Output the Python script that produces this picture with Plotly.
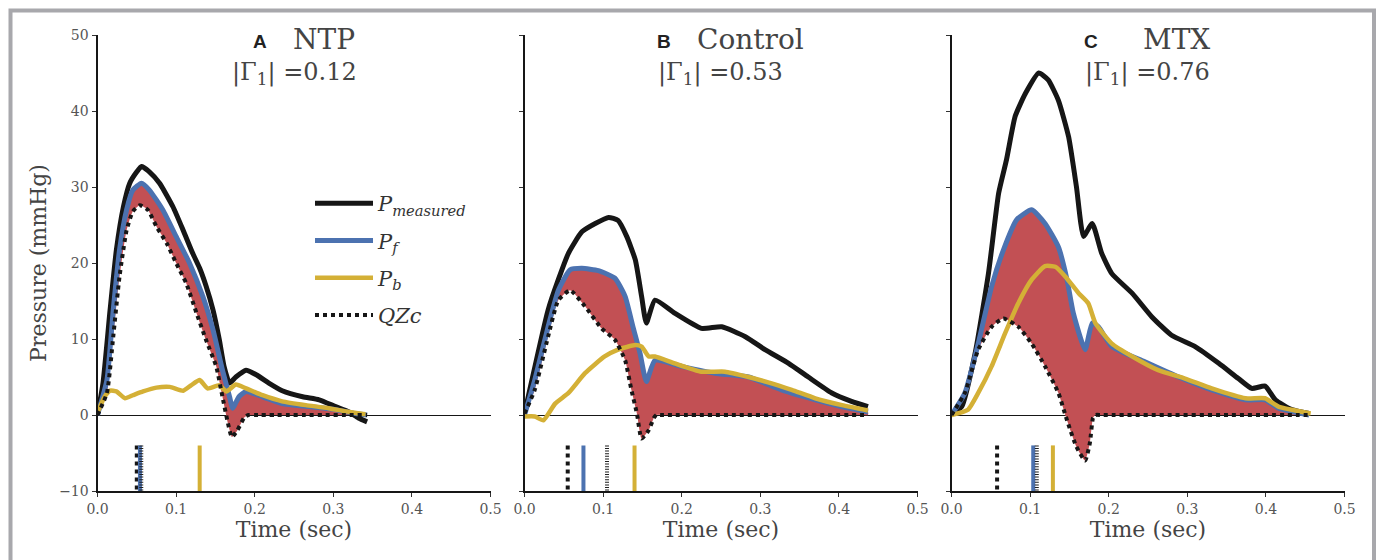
import plotly.graph_objects as go

# ---------------- data ----------------
panels = ["A", "B", "C"]
panel_names = ["NTP", "Control", "MTX"]
gamma_values = ["0.12", "0.53", "0.76"]

# Panel A
a_meas_t = [0.0, 0.007, 0.016, 0.024, 0.033, 0.041, 0.050, 0.056, 0.066, 0.079, 0.096, 0.109, 0.121, 0.130,
            0.138, 0.147, 0.155, 0.161, 0.168, 0.176, 0.189, 0.202, 0.218, 0.235, 0.261, 0.282, 0.303, 0.320,
            0.332, 0.343]
a_meas_p = [0.0, 4.2, 13.8, 21.7, 27.4, 30.5, 32.0, 32.7, 32.0, 30.5, 27.4, 24.3, 21.3, 19.3,
            17.0, 13.8, 9.9, 6.4, 4.2, 5.0, 5.9, 5.3, 4.2, 3.2, 2.4, 2.0, 1.1, 0.4,
            -0.4, -0.9]
a_pf_t = [0.0, 0.012, 0.020, 0.028, 0.037, 0.045, 0.056, 0.066, 0.083, 0.100, 0.117, 0.134, 0.147, 0.159,
          0.168, 0.172, 0.180, 0.189, 0.210, 0.235, 0.269, 0.303, 0.328, 0.343]
a_pf_p = [0.0, 4.6, 13.8, 21.7, 27.0, 29.6, 30.5, 29.6, 27.0, 23.5, 20.0, 15.6, 11.2, 5.9,
          2.4, 0.9, 2.4, 3.1, 2.4, 1.5, 1.1, 0.7, 0.2, 0.0]
a_pb_t = [0.0, 0.009, 0.016, 0.024, 0.035, 0.045, 0.058, 0.075, 0.092, 0.109, 0.119, 0.130, 0.140, 0.155,
          0.164, 0.176, 0.189, 0.210, 0.235, 0.265, 0.294, 0.320, 0.341]
a_pb_p = [0.3, 2.4, 3.2, 3.1, 2.2, 2.6, 3.1, 3.6, 3.7, 3.2, 3.9, 4.6, 3.5, 3.9,
          3.1, 4.0, 3.5, 2.6, 1.8, 1.3, 0.9, 0.4, 0.1]
a_qzc_t = [0.0, 0.012, 0.020, 0.028, 0.037, 0.045, 0.054, 0.064, 0.075, 0.088, 0.100, 0.113, 0.126, 0.138,
           0.151, 0.159, 0.166, 0.171, 0.178, 0.187, 0.192, 0.200, 0.343]
a_qzc_p = [0.0, 2.9, 10.3, 18.2, 24.3, 26.8, 27.6, 27.0, 24.8, 22.6, 20.0, 17.3, 13.4, 9.9,
           6.4, 2.4, -1.1, -2.9, -2.0, -0.3, 0.0, 0.0, 0.0]

# Panel B
b_meas_t = [0.0, 0.030, 0.043, 0.056, 0.073, 0.090, 0.107, 0.119, 0.130, 0.141, 0.149, 0.155, 0.166, 0.191,
            0.225, 0.251, 0.281, 0.306, 0.336, 0.361, 0.391, 0.416, 0.437]
b_meas_p = [0.2, 13.8, 17.8, 21.3, 24.1, 25.2, 26.0, 25.6, 23.5, 20.4, 15.6, 12.1, 15.1, 13.4,
            11.4, 11.6, 10.3, 8.6, 6.8, 5.0, 2.9, 1.8, 1.1]
b_pf_t = [0.0, 0.013, 0.030, 0.043, 0.058, 0.073, 0.094, 0.115, 0.128, 0.138, 0.147, 0.155, 0.166, 0.200,
          0.242, 0.285, 0.327, 0.370, 0.412, 0.437]
b_pf_p = [0.0, 4.6, 11.6, 16.4, 19.1, 19.3, 19.0, 18.0, 15.6, 11.6, 8.1, 4.4, 7.2, 6.4,
          5.5, 5.0, 3.3, 2.0, 0.9, 0.4]
b_pb_t = [0.0, 0.013, 0.024, 0.039, 0.056, 0.077, 0.102, 0.119, 0.141, 0.149, 0.158, 0.166, 0.191, 0.225,
          0.255, 0.285, 0.310, 0.340, 0.370, 0.404, 0.437]
b_pb_p = [-0.2, -0.2, -0.7, 1.5, 2.9, 5.5, 7.7, 8.6, 9.2, 9.0, 7.7, 7.7, 6.8, 5.7,
          5.7, 5.0, 4.3, 3.3, 2.2, 1.3, 0.6]
b_qzc_t = [0.0, 0.013, 0.030, 0.043, 0.058, 0.077, 0.098, 0.115, 0.128, 0.136, 0.143, 0.149, 0.158, 0.165,
           0.168, 0.176, 0.429, 0.437]
b_qzc_p = [0.2, 3.3, 10.3, 15.1, 16.4, 14.3, 11.4, 9.9, 7.2, 3.3, 0.2, -3.1, -2.0, -0.3,
           0.0, 0.0, 0.0, 0.0]

# Panel C
c_meas_t = [0.0, 0.013, 0.030, 0.047, 0.060, 0.070, 0.081, 0.094, 0.111, 0.123, 0.136, 0.149, 0.159, 0.168,
            0.179, 0.191, 0.204, 0.230, 0.255, 0.280, 0.310, 0.340, 0.365, 0.382, 0.399, 0.412, 0.433, 0.455]
c_meas_p = [0.2, 1.1, 8.1, 18.6, 29.2, 33.6, 39.3, 42.3, 45.0, 44.1, 41.4, 36.6, 30.0, 23.5,
            25.2, 21.3, 18.6, 16.0, 12.9, 10.5, 9.0, 6.8, 4.8, 3.5, 3.8, 2.0, 0.7, 0.2]
c_pf_t = [0.0, 0.017, 0.034, 0.051, 0.066, 0.083, 0.102, 0.119, 0.136, 0.147, 0.155, 0.170, 0.179, 0.187,
          0.204, 0.246, 0.289, 0.331, 0.374, 0.399, 0.416, 0.455]
c_pf_p = [0.0, 2.9, 9.4, 16.9, 21.7, 25.7, 27.0, 25.2, 22.1, 17.8, 13.4, 8.6, 12.1, 11.6,
          9.0, 7.0, 5.0, 3.3, 2.0, 2.0, 0.9, 0.0]
c_pb_t = [0.0, 0.021, 0.034, 0.051, 0.068, 0.085, 0.102, 0.119, 0.132, 0.145, 0.162, 0.174, 0.183, 0.204,
          0.230, 0.263, 0.297, 0.331, 0.374, 0.399, 0.416, 0.457]
c_pb_p = [0.0, 0.7, 2.9, 6.4, 10.7, 14.7, 17.8, 19.6, 19.5, 18.2, 16.0, 14.7, 12.1, 9.4,
          7.7, 5.9, 4.8, 3.5, 2.2, 2.2, 1.1, 0.2]
c_qzc_t = [0.0, 0.017, 0.034, 0.051, 0.066, 0.085, 0.102, 0.119, 0.136, 0.147, 0.159, 0.170, 0.176, 0.180,
           0.183, 0.191, 0.442, 0.455]
c_qzc_p = [0.0, 2.9, 8.6, 11.6, 12.7, 11.6, 9.4, 6.4, 2.9, -0.7, -4.2, -6.0, -3.7, -0.4,
           0.0, 0.0, 0.0, 0.0]

# peak-time markers (sec) for panels A, B, C
mark_qzc = [0.050, 0.055, 0.058]
mark_pf = [0.054, 0.075, 0.104]
mark_meas = [0.0557, 0.105, 0.1085]
mark_pb = [0.130, 0.140, 0.129]

y_ticks = [-10, 0, 10, 20, 30, 40, 50]
x_ticks = [0.0, 0.1, 0.2, 0.3, 0.4, 0.5]

# ---------------- styling ----------------
BLACK = "#161616"
BLUE = "#4c72b0"
YELLOW = "#d4b036"
RED = "#c25054"
SERIF = "DejaVu Serif"
MARK_TOP, MARK_BOTTOM = -4.0, -10.0
SMOOTH = 0.5

series = {
    "A": (a_meas_t, a_meas_p, a_pf_t, a_pf_p, a_pb_t, a_pb_p, a_qzc_t, a_qzc_p),
    "B": (b_meas_t, b_meas_p, b_pf_t, b_pf_p, b_pb_t, b_pb_p, b_qzc_t, b_qzc_p),
    "C": (c_meas_t, c_meas_p, c_pf_t, c_pf_p, c_pb_t, c_pb_p, c_qzc_t, c_qzc_p),
}

W, H = 1377, 560
x_domains_px = [(97.5, 490.5), (524.5, 917.5), (951.5, 1344.5)]
y_domain_px = (35, 491)

fig = go.Figure()

for i, key in enumerate(panels):
    mt, mp, ft, fp, bt, bp, qt, qp = series[key]
    xa = "x" if i == 0 else f"x{i+1}"
    ya = "y" if i == 0 else f"y{i+1}"
    first = i == 0
    # red area between Pf and QZc
    fig.add_trace(go.Scatter(x=list(ft) + list(qt)[::-1], y=list(fp) + list(qp)[::-1],
                             fill="toself", fillcolor=RED,
                             line=dict(width=0, shape="spline", smoothing=SMOOTH), mode="lines",
                             showlegend=False, hoverinfo="skip", xaxis=xa, yaxis=ya))
    fig.add_trace(go.Scatter(x=mt, y=mp, mode="lines",
                             line=dict(color=BLACK, width=5, shape="spline", smoothing=SMOOTH),
                             name="<i>P</i><sub><i>measured</i></sub>", legendgroup="m",
                             showlegend=first, xaxis=xa, yaxis=ya))
    fig.add_trace(go.Scatter(x=ft, y=fp, mode="lines",
                             line=dict(color=BLUE, width=5, shape="spline", smoothing=SMOOTH),
                             name="<i>P</i><sub><i>f</i></sub>", legendgroup="f",
                             showlegend=first, xaxis=xa, yaxis=ya))
    fig.add_trace(go.Scatter(x=bt, y=bp, mode="lines",
                             line=dict(color=YELLOW, width=4.5, shape="spline", smoothing=SMOOTH),
                             name="<i>P</i><sub><i>b</i></sub>", legendgroup="b",
                             showlegend=first, xaxis=xa, yaxis=ya))
    fig.add_trace(go.Scatter(x=qt, y=qp, mode="lines",
                             line=dict(color=BLACK, width=4, dash="4px,4px", shape="spline", smoothing=SMOOTH),
                             name="<i>QZc</i>", legendgroup="q",
                             showlegend=first, xaxis=xa, yaxis=ya))
    # peak markers
    for tv, col, wd, dsh in [(mark_qzc[i], BLACK, 4, "4px,4px"),
                             (mark_pf[i], BLUE, 4, "solid"),
                             (mark_pb[i], YELLOW, 4, "solid"),
                             (mark_meas[i], "#1e1e1e", 4, "1px,1.6px")]:
        fig.add_trace(go.Scatter(x=[tv, tv], y=[MARK_TOP, MARK_BOTTOM], mode="lines",
                                 line=dict(color=col, width=wd, dash=dsh),
                                 showlegend=False, hoverinfo="skip", xaxis=xa, yaxis=ya))

layout = dict(
    width=W, height=H, margin=dict(l=0, r=0, t=0, b=0, autoexpand=False),
    paper_bgcolor="white", plot_bgcolor="white",
    showlegend=True,
    legend=dict(x=310 / W, y=1 - 183 / H, xanchor="left", yanchor="top",
                font=dict(family=SERIF, size=21, color="#333333"),
                bgcolor="rgba(0,0,0,0)", tracegroupgap=7, itemwidth=58),
)

for i in range(3):
    xk = "xaxis" if i == 0 else f"xaxis{i+1}"
    yk = "yaxis" if i == 0 else f"yaxis{i+1}"
    x0, x1 = x_domains_px[i]
    layout[xk] = dict(domain=[x0 / W, x1 / W], range=[0, 0.5], anchor="y" if i == 0 else f"y{i+1}",
                      automargin=False,
                      tickvals=x_ticks, tickformat=".1f", showline=True, linecolor=BLACK, linewidth=2,
                      ticks="outside", ticklen=4, tickcolor="#333333", showgrid=False, zeroline=False,
                      tickfont=dict(family=SERIF, size=14, color="#555555"),
                      title=dict(text="Time (sec)", font=dict(family=SERIF, size=22, color="#444444"),
                                 standoff=4))
    layout[yk] = dict(domain=[1 - y_domain_px[1] / H, 1 - y_domain_px[0] / H], range=[-10, 50],
                      anchor="x" if i == 0 else f"x{i+1}", automargin=False,
                      tickvals=y_ticks, showline=True, linecolor=BLACK, linewidth=2,
                      ticks="outside", ticklen=4, tickcolor="#333333", showgrid=False,
                      zeroline=True, zerolinecolor=BLACK, zerolinewidth=1,
                      showticklabels=(i == 0),
                      tickfont=dict(family=SERIF, size=14, color="#555555"))
    if i == 0:
        layout[yk]["title"] = dict(text="Pressure (mmHg)", font=dict(family=SERIF, size=22, color="#444444"),
                                   standoff=6)

fig.update_layout(**layout)

# panel titles
letter_px = [259.5, 663.5, 1091]
name_px = [323.5, 750, 1176]
gamma_px = [294.5, 720, 1147.5]
for i in range(3):
    fig.add_annotation(x=letter_px[i] / W, y=1 - 42 / H, xref="paper", yref="paper", showarrow=False,
                       xanchor="center", yanchor="middle",
                       text=f"<b>{panels[i]}</b>", font=dict(family="Liberation Sans", size=19, color="#222222"))
    fig.add_annotation(x=name_px[i] / W, y=1 - 40 / H, xref="paper", yref="paper", showarrow=False,
                       xanchor="center", yanchor="middle",
                       text=panel_names[i], font=dict(family=SERIF, size=28, color="#444444"))
    fig.add_annotation(x=gamma_px[i] / W, y=1 - 74 / H, xref="paper", yref="paper", showarrow=False,
                       xanchor="center", yanchor="middle",
                       text=f"|Γ<sub>1</sub>| =0{gamma_values[i][1:]}", font=dict(family=SERIF, size=24, color="#444444"))

# outer grey frame
fig.add_shape(type="rect", xref="paper", yref="paper", x0=10.5 / W, x1=1374 / W, y0=-0.05, y1=1 - 10.5 / H,
              line=dict(color="#a8a8ac", width=4), fillcolor="rgba(0,0,0,0)", layer="above")

fig.write_html("out.html")
